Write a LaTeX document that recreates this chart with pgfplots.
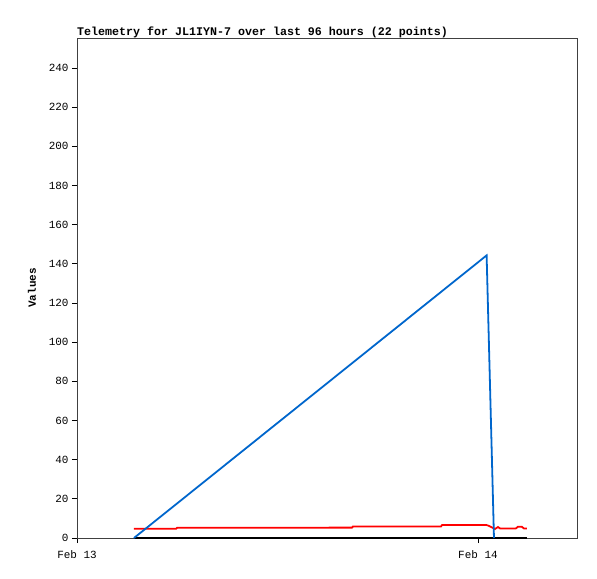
\documentclass[border=0pt]{standalone}
\usepackage{fontspec}
\setmainfont{Liberation Mono}
\setmonofont{Liberation Mono}
\usepackage{pgfplots}
\pgfplotsset{compat=1.18}
\definecolor{tblue}{RGB}{0,102,204}
\begin{document}
\begin{tikzpicture}
\useasboundingbox (-77bp,-41bp) rectangle (520bp,538bp);
\begin{axis}[
  at={(0,0)}, anchor=south west,
  scale only axis, width=500bp, height=500bp,
  xmin=0, xmax=29.93, ymin=0, ymax=255.3,
  axis line style={black!75, line width=0.8pt},
  tick align=outside,
  xtick pos=lower, ytick pos=left,
  tick style={black, line width=0.8pt},
  major tick length=5bp,
  ytick={0,20,...,240},
  xtick={0,24}, xticklabels={Feb 13,Feb 14},
  /pgf/number format/assume math mode=true,
  ticklabel style={font=\fontsize{11}{12}\selectfont},
  xticklabel style={yshift=-4bp},
  ylabel={\textbf{Values}},
  ylabel style={font=\fontsize{11}{13}\selectfont, yshift=6bp},
  title={\textbf{Telemetry for JL1IYN-7 over last 96 hours (22 points)}},
  title style={font=\fontsize{11.7}{13}\selectfont, at={(0,1)}, anchor=south west, inner xsep=0pt, yshift=-9bp},
  clip=false,
]
\addplot[black, line width=1.8pt] coordinates {(3.41,0) (26.93,0)};
\addplot[red, line width=1.8pt] coordinates {
 (3.41,4.7) (5.93,4.7) (5.99,5.2) (16.46,5.3) (16.52,5.9) (21.79,5.9) (21.85,6.6)
 (24.52,6.6) (24.66,6.2) (25.02,4.6) (25.20,5.6) (25.32,4.9) (26.27,4.9)
 (26.39,5.7) (26.63,5.7) (26.75,4.9) (26.93,4.9)};
\addplot[tblue, line width=1.8pt] coordinates {(3.41,0) (24.52,144.3) (24.96,0)};
\end{axis}
\end{tikzpicture}
\end{document}
